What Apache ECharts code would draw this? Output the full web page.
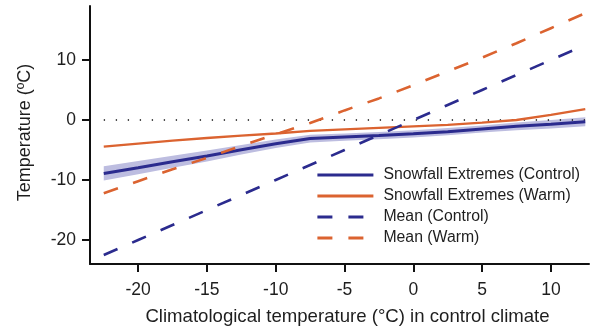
<!DOCTYPE html>
<html>
<head>
<meta charset="utf-8">
<script src="https://cdn.jsdelivr.net/npm/echarts@6/dist/echarts.min.js"></script>
<style>
  html, body { margin: 0; padding: 0; background: #ffffff; }
  #chart { width: 590px; height: 330px; }
</style>
</head>
<body>
<div id="chart"></div>
<script>
// Climatological temperature in the control climate (°C)
const climTemp = [-22.5, -20, -17.5, -15, -12.5, -10, -7.5, -5, -2.5, 0, 2.5, 5, 7.5, 10, 12.5];

// Temperature of snowfall extremes, control climate, with its uncertainty band
const extremesControl = [-8.9, -7.95, -6.95, -6.0, -4.95, -3.95, -3.1, -2.85, -2.6, -2.3, -1.95, -1.5, -1.05, -0.7, -0.3];
const extremesControlLow = [-10.1, -9.05, -7.95, -6.9, -5.75, -4.65, -3.75, -3.45, -3.2, -2.9, -2.55, -2.1, -1.7, -1.4, -1.05];
const extremesControlHigh = [-7.7, -6.85, -5.95, -5.1, -4.15, -3.25, -2.45, -2.25, -2.0, -1.7, -1.35, -0.9, -0.4, 0.0, 0.45];

// Temperature of snowfall extremes, warm climate
const extremesWarm = [-4.45, -3.95, -3.45, -3.0, -2.6, -2.25, -1.8, -1.55, -1.3, -1.05, -0.8, -0.45, 0.0, 0.85, 1.8];

// Mean temperature, control and warm climates
const meanControl = [-22.5, -20, -17.5, -15, -12.5, -10, -7.5, -5, -2.5, 0, 2.5, 5, 7.5, 10, 12.5];
const meanWarm = [-12.2, -10.2, -8.2, -6.3, -4.3, -2.4, -0.5, 1.6, 3.6, 5.8, 8.1, 10.4, 12.8, 15.3, 17.8];

// Freezing reference line
const zeroLineX = [-22.5, 12.5];
const zeroLineY = [0, 0];

// Axis ticks
const xTicks = [-20, -15, -10, -5, 0, 5, 10];
const yTicks = [-20, -10, 0, 10];

const BLUE = '#2b2b8e';
const ORANGE = '#db6330';
const BAND = '#bdbde0';
const FONT = '"Liberation Sans", Arial, Helvetica, sans-serif';
const TEXT = '#1e1e1e';

const pairs = (xs, ys) => xs.map((x, i) => [x, ys[i]]);

const chart = echarts.init(document.getElementById('chart'), null, { renderer: 'canvas' });

const axisCommon = {
  type: 'value',
  axisLine: { show: true, onZero: false, lineStyle: { color: '#111', width: 2 } },
  axisTick: { show: true, length: 8, lineStyle: { color: '#111', width: 2 } },
  axisLabel: { fontFamily: FONT, fontSize: 17.5, color: TEXT },
  splitLine: { show: false },
  nameTextStyle: { fontFamily: FONT, fontSize: 18.6, color: TEXT }
};

// Uncertainty band: one polygon along the upper bound and back along the lower bound
function renderBand(params, api) {
  if (params.dataIndex !== 0) return null;
  const upper = climTemp.map((x, i) => api.coord([x, extremesControlHigh[i]]));
  const lower = climTemp.map((x, i) => api.coord([x, extremesControlLow[i]])).reverse();
  return {
    type: 'polygon',
    shape: { points: upper.concat(lower) },
    style: { fill: BAND },
    silent: true
  };
}

chart.setOption({
  animation: false,
  backgroundColor: '#ffffff',
  grid: { left: 90, right: 1, top: 6, bottom: 66, containLabel: false, outerBoundsMode: 'none' },
  xAxis: Object.assign({}, axisCommon, {
    min: -23.5, max: 12.77,
    axisTick: Object.assign({}, axisCommon.axisTick, { customValues: xTicks }),
    axisLabel: Object.assign({}, axisCommon.axisLabel, { customValues: xTicks, margin: 17 }),
    name: 'Climatological temperature (°C) in control climate',
    nameLocation: 'middle',
    nameGap: 43,
    nameTextStyle: Object.assign({}, axisCommon.nameTextStyle, { padding: [0, 0, 0, 16] })
  }),
  yAxis: Object.assign({}, axisCommon, {
    min: -24, max: 19,
    axisTick: Object.assign({}, axisCommon.axisTick, { customValues: yTicks }),
    axisLabel: Object.assign({}, axisCommon.axisLabel, { customValues: yTicks, margin: 14 }),
    name: 'Temperature (ºC)',
    nameLocation: 'middle',
    nameGap: 56,
    nameTextStyle: Object.assign({}, axisCommon.nameTextStyle, { fontSize: 18, padding: [0, 0, 0, 5] })
  }),
  legend: {
    orient: 'vertical',
    left: 316,
    top: 167,
    padding: 0,
    itemWidth: 56,
    itemHeight: 14,
    itemGap: 5,
    itemStyle: { opacity: 0 },
    lineStyle: { width: 2.8 },
    data: ['Snowfall Extremes (Control)', 'Snowfall Extremes (Warm)', 'Mean (Control)', 'Mean (Warm)'],
    textStyle: { fontFamily: FONT, fontSize: 15.8, color: TEXT, padding: [0, 0, 0, 5] }
  },
  series: [
    {
      name: 'band', type: 'custom', silent: true, z: 1,
      data: climTemp.map((x, i) => [x, extremesControlLow[i], extremesControlHigh[i]]),
      encode: { x: 0, y: [1, 2] },
      renderItem: renderBand
    },
    {
      name: 'zero', type: 'line', symbol: 'none', silent: true,
      data: pairs(zeroLineX, zeroLineY),
      lineStyle: { color: '#111', width: 1.3, type: [1.3, 10.7] }, z: 2
    },
    {
      name: 'Snowfall Extremes (Control)', type: 'line', symbol: 'none',
      data: pairs(climTemp, extremesControl),
      lineStyle: { color: BLUE, width: 3 }, itemStyle: { color: BLUE }, z: 3
    },
    {
      name: 'Snowfall Extremes (Warm)', type: 'line', symbol: 'none',
      data: pairs(climTemp, extremesWarm),
      lineStyle: { color: ORANGE, width: 2.3 }, itemStyle: { color: ORANGE }, z: 3
    },
    {
      name: 'Mean (Control)', type: 'line', symbol: 'none',
      data: pairs(climTemp, meanControl),
      lineStyle: { color: BLUE, width: 2.6, type: [15, 16] }, itemStyle: { color: BLUE }, z: 4
    },
    {
      name: 'Mean (Warm)', type: 'line', symbol: 'none',
      data: pairs(climTemp, meanWarm),
      lineStyle: { color: ORANGE, width: 2.6, type: [15, 16] }, itemStyle: { color: ORANGE }, z: 4
    }
  ]
});
</script>
</body>
</html>
